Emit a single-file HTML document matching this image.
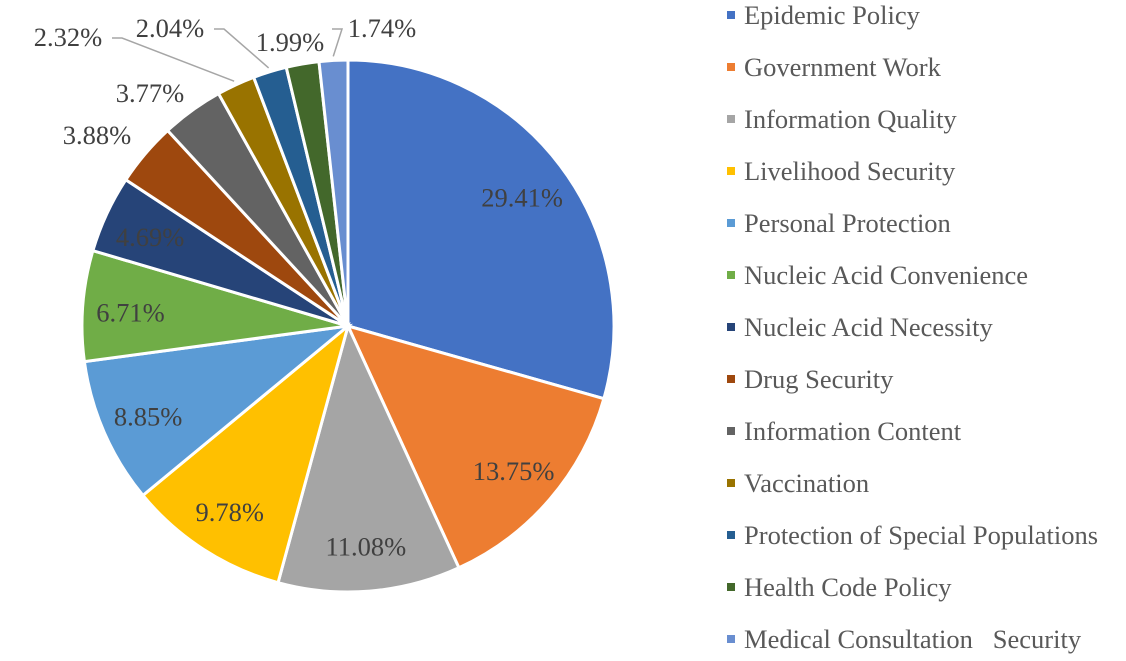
<!DOCTYPE html>
<html><head><meta charset="utf-8"><style>
html,body{margin:0;padding:0;background:#fff;}
svg{display:block;font-family:"Liberation Serif",serif;}
</style></head><body>
<svg id="chart" width="1126" height="661" viewBox="0 0 1126 661" xmlns="http://www.w3.org/2000/svg"></svg>
<script>
const categories = ["Epidemic Policy","Government Work","Information Quality","Livelihood Security","Personal Protection","Nucleic Acid Convenience","Nucleic Acid Necessity","Drug Security","Information Content","Vaccination","Protection of Special Populations","Health Code Policy","Medical Consultation   Security"];
const values = [29.41,13.75,11.08,9.78,8.85,6.71,4.69,3.88,3.77,2.32,2.04,1.99,1.74];
const valueLabels = ["29.41%","13.75%","11.08%","9.78%","8.85%","6.71%","4.69%","3.88%","3.77%","2.32%","2.04%","1.99%","1.74%"];
const colors = ["#4472C4","#ED7D31","#A5A5A5","#FFC000","#5B9BD5","#70AD47","#264478","#9E480E","#636363","#997300","#255E91","#43682B","#698ED0"];

const svg = document.getElementById('chart');
const NS = "http://www.w3.org/2000/svg";
const cx = 348, cy = 326, r = 266;
const outside = {7:{x:97,y:144},8:{x:150,y:102},9:{x:68,y:46,line:true},10:{x:170,y:37,line:true},11:{x:290,y:51},12:{x:382,y:37,line:true}};
const total = values.reduce((a,b)=>a+b,0);
function pt(a, rad){return [cx+rad*Math.sin(a), cy-rad*Math.cos(a)];}
let acc = 0;
values.forEach((v,i)=>{
  const a0 = acc/total*2*Math.PI; acc += v; const a1 = acc/total*2*Math.PI;
  const [x0,y0]=pt(a0,r),[x1,y1]=pt(a1,r);
  const p = document.createElementNS(NS,'path');
  p.setAttribute('d',`M${cx},${cy} L${x0},${y0} A${r},${r} 0 ${a1-a0>Math.PI?1:0} 1 ${x1},${y1} Z`);
  p.setAttribute('fill',colors[i]); p.setAttribute('stroke','#fff'); p.setAttribute('stroke-width','3');
  
  
  svg.appendChild(p);
  const am = (a0+a1)/2;
  const t = document.createElementNS(NS,'text');
  let lx, ly;
  if (outside[i]) {
    lx = outside[i].x; ly = outside[i].y;
    if (outside[i].line) {
      const [ex,ey] = pt(am, r+4);
      const l = document.createElementNS(NS,'polyline');
      const sx = i===12 ? lx-50 : lx+44;
      l.setAttribute('points', `${sx},${ly-8} ${sx+10},${ly-8} ${ex},${ey}`);
      l.setAttribute('fill','none'); l.setAttribute('stroke','#A6A6A6'); l.setAttribute('stroke-width','1.5');
      
      
      svg.appendChild(l);
    }
  } else {
    const [px,py] = pt(am, r*0.82); lx = px; ly = py+12;
  }
  t.setAttribute('x',lx); t.setAttribute('y',ly); t.setAttribute('text-anchor','middle');
  t.setAttribute('font-size','26.5'); t.setAttribute('fill','#404040');
  t.textContent = valueLabels[i];
  
  
  svg.appendChild(t);
});
categories.forEach((c,i)=>{
  const y = 15 + i*52;
  const g = document.createElementNS(NS,'g');
  
  
  const m = document.createElementNS(NS,'rect');
  m.setAttribute('x',727); m.setAttribute('y',y-4); m.setAttribute('width',8); m.setAttribute('height',8); m.setAttribute('fill',colors[i]);
  
  
  const t = document.createElementNS(NS,'text');
  t.setAttribute('x',744); t.setAttribute('y',y+9); t.setAttribute('font-size','26.5'); t.setAttribute('fill','#595959');
  t.style.whiteSpace='pre';
  t.textContent = c;
  
  
  g.appendChild(m); g.appendChild(t); svg.appendChild(g);
});
</script>
</body></html>
